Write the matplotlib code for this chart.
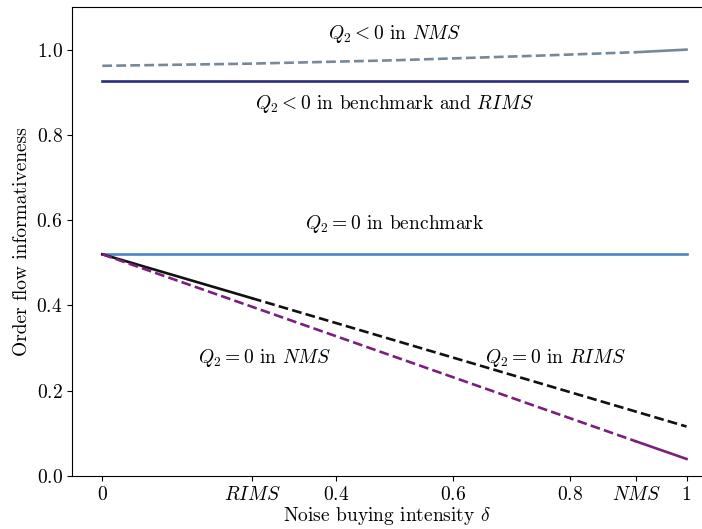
import matplotlib
matplotlib.use('Agg')
import matplotlib.pyplot as plt
import numpy as np

plt.rcParams['font.family'] = 'serif'
plt.rcParams['font.serif'] = ['cmr10', 'DejaVu Serif']
plt.rcParams['mathtext.fontset'] = 'cm'
plt.rcParams['axes.formatter.use_mathtext'] = True
plt.rcParams['font.size'] = 14

# Order flow informativeness vs noise buying intensity
rims = 0.256
nms = 0.914

# Q2 < 0 in NMS (gray, rising slightly)
gray_x = [0.0, 0.25, 0.5, 0.75, nms, 1.0]
gray_y = [0.962, 0.967, 0.975, 0.986, 0.994, 1.0]

# Q2 < 0 in benchmark and RIMS (navy, flat)
navy_x = [0.0, 1.0]
navy_y = [0.926, 0.926]

# Q2 = 0 in benchmark (blue, flat)
blue_x = [0.0, 1.0]
blue_y = [0.52, 0.52]

# Q2 = 0 in RIMS (black)
black_x = [0.0, rims, 1.0]
black_y = [0.52, 0.417, 0.116]

# Q2 = 0 in NMS (purple)
purple_x = [0.0, nms, 1.0]
purple_y = [0.52, 0.081, 0.04]

xtick_pos = [0, rims, 0.4, 0.6, 0.8, nms, 1]
xtick_lab = ['$0$', '$RIMS$', '$0.4$', '$0.6$', '$0.8$', '$NMS$', '$1$']

fig = plt.figure(figsize=(7.02, 5.29), dpi=100)
ax = fig.add_axes([0.103, 0.1002, 0.897, 0.8866])

lw = 1.9
gray = '#778899'
navy = '#2b2b7b'
blue = '#4a86c0'
purple = '#7c1f7c'

# gray: dashed until NMS, solid after
ax.plot(gray_x[:5], gray_y[:5], ls='--', color=gray, lw=lw)
ax.plot(gray_x[4:], gray_y[4:], ls='-', color=gray, lw=lw)
ax.plot(navy_x, navy_y, color=navy, lw=lw)
ax.plot(blue_x, blue_y, color=blue, lw=lw)
# black: solid until RIMS, dashed after
ax.plot(black_x[:2], black_y[:2], color='#111111', lw=lw)
ax.plot(black_x[1:], black_y[1:], ls='--', color='#111111', lw=lw)
# purple: dashed until NMS, solid after
ax.plot(purple_x[:2], purple_y[:2], ls='--', color=purple, lw=lw)
ax.plot(purple_x[1:], purple_y[1:], color=purple, lw=lw)

ax.text(0.5, 1.037, r'$Q_2 < 0$ in $NMS$', ha='center', va='center')
ax.text(0.5, 0.872, r'$Q_2 < 0$ in benchmark and $RIMS$', ha='center', va='center')
ax.text(0.5, 0.59, r'$Q_2 = 0$ in benchmark', ha='center', va='center')
ax.text(0.278, 0.277, r'$Q_2 = 0$ in $NMS$', ha='center', va='center')
ax.text(0.776, 0.277, r'$Q_2 = 0$ in $RIMS$', ha='center', va='center')

ax.set_xlim(-0.0514, 1.0265)
ax.set_ylim(0, 1.1)
ax.set_xticks(xtick_pos)
ax.set_xticklabels(xtick_lab)
ax.set_yticks([0, 0.2, 0.4, 0.6, 0.8, 1.0])
ax.set_yticklabels(['$0.0$', '$0.2$', '$0.4$', '$0.6$', '$0.8$', '$1.0$'])
ax.spines['right'].set_visible(False)
ax.set_xlabel(r'Noise buying intensity $\delta$', labelpad=1)
ax.set_ylabel('Order flow informativeness', labelpad=4)

fig.savefig('out.png', dpi=100)
